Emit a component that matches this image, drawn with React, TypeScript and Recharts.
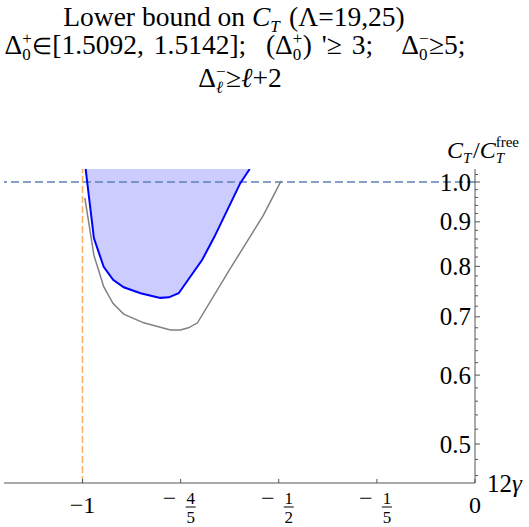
import React from 'react';
import { ComposedChart, Line, Area, XAxis, YAxis, ReferenceLine } from 'recharts';

const SERIF = 'Liberation Serif';
const AXIS = '#555555';

// plot range
const Y_MIN = 0.451;
const Y_MAX = 1.035;
const X_MIN = -1.2;
const X_MAX = 0;

// lower bound, shaded region lies above it
const blueX = [-0.992, -0.971, -0.946, -0.922, -0.895, -0.852, -0.802, -0.78, -0.755, -0.695, -0.664, -0.598, -0.574];
const blueY = [1.035, 0.862, 0.799, 0.772, 0.757, 0.745, 0.736, 0.737, 0.745, 0.814, 0.865, 0.997, 1.035];

// grey reference bound
const grayX = [-0.994, -0.971, -0.946, -0.922, -0.895, -0.844, -0.776, -0.751, -0.73, -0.707, -0.626, -0.539, -0.494];
const grayY = [0.959, 0.824, 0.758, 0.725, 0.705, 0.689, 0.676, 0.676, 0.68, 0.689, 0.792, 0.916, 1.003];

const xTicks = [-1, -0.75, -0.5, -0.25, 0];
const xTickLabels = ['−1', '−4/5', '−1/2', '−1/5', '0'];

const yMajor = [0.5, 0.6, 0.7, 0.8, 0.9, 1.0];
const yMajorLabels = ['0.5', '0.6', '0.7', '0.8', '0.9', '1.0'];
const yMinor = [0.46, 0.48, 0.52, 0.54, 0.56, 0.58, 0.62, 0.64, 0.66, 0.68, 0.72, 0.74, 0.76, 0.78,
  0.82, 0.84, 0.86, 0.88, 0.92, 0.94, 0.96, 0.98, 1.02];

const blueData = blueX.map((x, i) => ({ x, y: blueY[i], band: [blueY[i], Y_MAX] }));
const grayData = grayX.map((x, i) => ({ x, y: grayY[i] }));

const XTick = (props: any) => {
  const { x, y, payload } = props;
  const idx = xTicks.findIndex(t => Math.abs(t - payload.value) < 1e-6);
  const label = xTickLabels[idx] ?? '';
  const parts = label.replace('−', '').split('/');
  return (
    <g>
      <line x1={x} x2={x} y1={y} y2={y - 4} stroke={AXIS} />
      {parts.length === 1 ? (
        <text x={x} y={y + 30} textAnchor="middle" fontSize={24} fontFamily={SERIF} fill="#000">{label}</text>
      ) : (
        <g fill="#000">
          <text x={x - 11} y={y + 23} textAnchor="middle" fontSize={24} fontFamily={SERIF}>−</text>
          <text x={x + 10} y={y + 21} textAnchor="middle" fontSize={17} fontFamily={SERIF}>{parts[0]}</text>
          <line x1={x + 5} x2={x + 15} y1={y + 24} y2={y + 24} stroke="#000" strokeWidth={1} />
          <text x={x + 10} y={y + 40} textAnchor="middle" fontSize={17} fontFamily={SERIF}>{parts[1]}</text>
        </g>
      )}
    </g>
  );
};

const YTick = (props: any) => {
  const { x, y, payload } = props;
  const idx = yMajor.findIndex(t => Math.abs(t - payload.value) < 1e-6);
  const major = idx >= 0;
  return (
    <g>
      <line x1={x} x2={x + (major ? 5 : 3)} y1={y} y2={y} stroke={AXIS} />
      {major && (
        <text x={x - 4} y={y + 8.5} textAnchor="end" fontSize={25} fontFamily={SERIF} fill="#000">
          {yMajorLabels[idx]}
        </text>
      )}
    </g>
  );
};

// stacked super/subscript that does not disturb the line box
const Stack = ({ sup, sub, f = 17, w = 10 }: { sup?: React.ReactNode; sub?: React.ReactNode; f?: number; w?: number }) => (
  <span style={{ position: 'relative', display: 'inline-block', width: w, height: 0 }}>
    {sup != null && (
      <span style={{ position: 'absolute', left: 0, bottom: 10 - 0.1625 * f, fontSize: f, lineHeight: `${f}px`, whiteSpace: 'nowrap' }}>{sup}</span>
    )}
    {sub != null && (
      <span style={{ position: 'absolute', left: 0, top: 6 - 0.8375 * f, fontSize: f, lineHeight: `${f}px`, whiteSpace: 'nowrap' }}>{sub}</span>
    )}
  </span>
);

const Txt = ({ left, baseline, size, width, spacing = 0, children }: any) => (
  <div
    style={{
      position: 'absolute',
      left,
      width,
      top: baseline - 0.8375 * size,
      fontSize: size,
      lineHeight: `${size}px`,
      textAlign: width ? 'center' : 'left',
      whiteSpace: 'pre',
      wordSpacing: spacing,
      fontFamily: SERIF,
      color: '#000',
    }}
  >
    {children}
  </div>
);

const Elem = () => <span style={{ fontSize: '0.82em' }}>∈</span>;

export default function App() {
  return (
    <div style={{ position: 'absolute', left: 0, top: 0, width: 529, height: 527, background: '#fff', fontFamily: SERIF }}>
      <ComposedChart width={529} height={527} margin={{ top: 169, right: 0, bottom: 0, left: 4 }}>
        <XAxis
          type="number"
          dataKey="x"
          domain={[X_MIN, X_MAX]}
          ticks={xTicks}
          allowDataOverflow
          height={44}
          tickSize={0}
          tickMargin={0}
          tickLine={false}
          axisLine={{ stroke: AXIS }}
          tick={<XTick />}
          interval={0}
        />
        <YAxis
          type="number"
          scale="log"
          orientation="right"
          domain={[Y_MIN, Y_MAX]}
          ticks={[...yMinor, ...yMajor].sort((a, b) => a - b)}
          allowDataOverflow
          width={54}
          tickSize={0}
          tickMargin={0}
          tickLine={false}
          axisLine={{ stroke: AXIS }}
          tick={<YTick />}
          interval={0}
        />
        <Area
          data={blueData}
          dataKey="band"
          type="linear"
          stroke="none"
          fill="#ccccff"
          fillOpacity={1}
          isAnimationActive={false}
        />
        <ReferenceLine y={1} stroke="#5e81b5" strokeWidth={1.5} strokeDasharray="8 4" />
        <ReferenceLine x={-1} stroke="#f9b062" strokeWidth={1.5} strokeDasharray="7 3" />
        <Line data={grayData} dataKey="y" type="linear" stroke="#808080" strokeWidth={1.5} dot={false} isAnimationActive={false} />
        <Line data={blueData} dataKey="y" type="linear" stroke="#0000ff" strokeWidth={2} dot={false} isAnimationActive={false} />
      </ComposedChart>

      <Txt left={0} width={468} baseline={26} size={27.5}>
        Lower bound on <i>C</i><Stack sub={<i>T</i>} w={12} /> (Λ=19,25)
      </Txt>
      <Txt left={0} width={470} baseline={54} size={27.5} spacing={3}>
        Δ<Stack sup="+" sub="0" /><Elem />[1.5092, 1.5142];  (Δ<Stack sup="+" sub="0" />) '≥ 3;   Δ<Stack sup="−" sub="0" />≥5;
      </Txt>
      <Txt left={0} width={480} baseline={87} size={27.5}>
        Δ<Stack sup="−" sub={<i>ℓ</i>} />≥<i>ℓ</i>+2
      </Txt>

      <Txt left={447} baseline={158} size={24}>
        <i>C</i><Stack sub={<i>T</i>} f={15} w={10} />/<i>C</i><Stack sup="free" sub={<i>T</i>} f={15} w={26} />
      </Txt>
      <Txt left={487} baseline={492} size={25}>
        12<i>γ</i>
      </Txt>
    </div>
  );
}
